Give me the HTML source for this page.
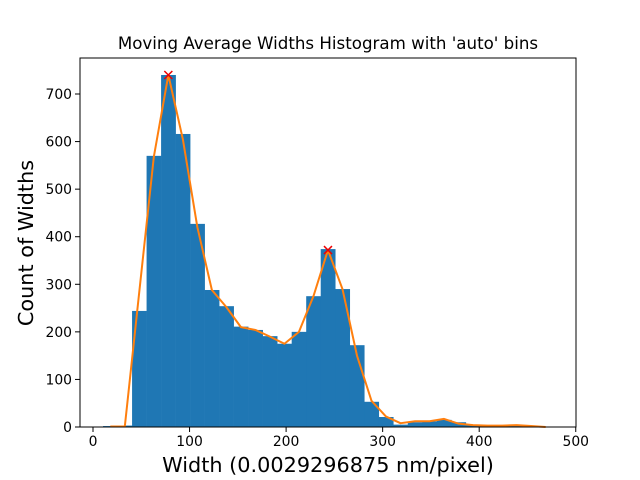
<!DOCTYPE html>
<html><head><meta charset="utf-8"><style>body{margin:0;background:#fff}svg{display:block;font-family:"DejaVu Sans","Liberation Sans",sans-serif}</style></head>
<body>
<svg id="c" width="640" height="480" xmlns="http://www.w3.org/2000/svg">
<text x="328" y="49" font-size="16.67" text-anchor="middle">Moving Average Widths Histogram with 'auto' bins</text>
<g id="plot"></g>
<rect x="80" y="58" width="496" height="369" fill="none" stroke="#000" stroke-width="1"/>
<text x="328" y="472" font-size="20.8" text-anchor="middle">Width (0.0029296875 nm/pixel)</text>
<text transform="translate(33,243) rotate(-90)" font-size="20.8" text-anchor="middle">Count of Widths</text>
</svg>
<script>
const binStart = 10.4;
const binWidth = 15.03;
const counts = [2,3,244,570,740,616,427,288,254,211,204,191,175,200,275,374,290,172,53,21,5,10,12,15,10,5,2,3,4,3,1];
const smoothed = [1,1,285,568,740,605,420,288,252,210,204,190,175,200,275,372,290,150,55,22,8,12,12,17,7,4,3,3,4,2,0];
const peakIdx = [4,15];
const xTicks = [0,100,200,300,400,500];
const yTicks = [0,100,200,300,400,500,600,700];
const xs = v => 93 + v*0.9655;
const ys = v => 427 - v*0.4757;
const NS = "http://www.w3.org/2000/svg";
const g = document.getElementById('plot');
function mk(t, a){const e=document.createElementNS(NS,t);for(const k in a)e.setAttribute(k,a[k]);g.appendChild(e);return e;}
counts.forEach((c,i)=>{
  const x0=xs(binStart+i*binWidth), x1=xs(binStart+(i+1)*binWidth);
  const r=mk('rect',{x:x0,y:ys(c),width:x1-x0+0.3,height:ys(0)-ys(c),fill:'#1f77b4'});
  
  
});
const pts = smoothed.map((v,i)=>xs(binStart+(i+0.5)*binWidth)+','+ys(v)).join(' ');
const pl = mk('polyline',{points:pts,fill:'none',stroke:'#ff7f0e','stroke-width':2,'stroke-linejoin':'round'});


peakIdx.forEach(i=>{
  const cx=xs(binStart+(i+0.5)*binWidth), cy=ys(smoothed[i]);
  const m=mk('path',{d:`M${cx-4},${cy-4}L${cx+4},${cy+4}M${cx-4},${cy+4}L${cx+4},${cy-4}`,stroke:'#e00',"stroke-width":1.5});
  
  
});
xTicks.forEach(t=>{
  const x=xs(t);
  const l=mk('line',{x1:x,x2:x,y1:427,y2:432,stroke:'#000'});
  
  
  const tx=mk('text',{x:x,y:446,'font-size':13.9,'text-anchor':'middle'});tx.textContent=t;
  
  
});
yTicks.forEach(t=>{
  const y=ys(t);
  const l=mk('line',{x1:75,x2:80,y1:y,y2:y,stroke:'#000'});
  
  
  const tx=mk('text',{x:72,y:y+5,'font-size':13.9,'text-anchor':'end'});tx.textContent=t;
  
  
});
</script>
</body></html>
